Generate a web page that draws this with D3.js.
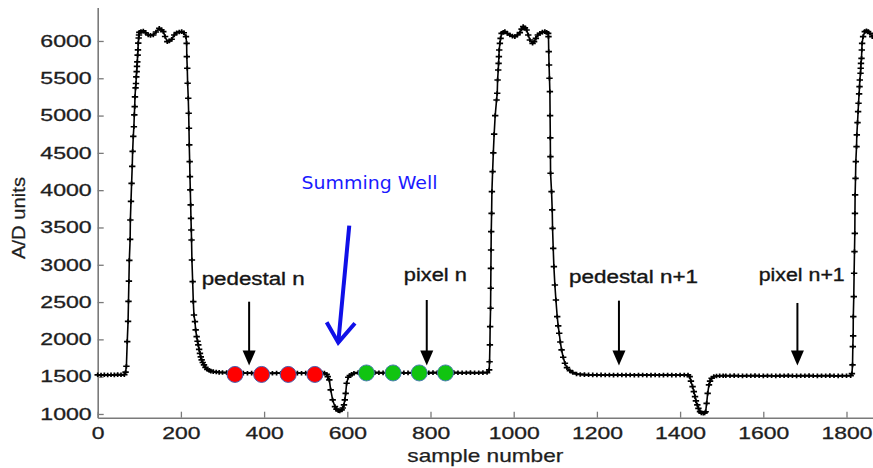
<!DOCTYPE html>
<html>
<head>
<meta charset="utf-8">
<script src="https://cdn.jsdelivr.net/npm/d3@7"></script>
<style>
  html, body { margin: 0; padding: 0; background: #ffffff; }
  svg { display: block; }
</style>
</head>
<body>
<script>
// ---------------- data ----------------
const xTicks = [0, 200, 400, 600, 800, 1000, 1200, 1400, 1600, 1800];
const yTicks = [1000, 1500, 2000, 2500, 3000, 3500, 4000, 4500, 5000, 5500, 6000];

const sampleNo = [
  0, 8, 16, 24, 32, 40, 48, 56, 64,
  67, 69, 71, 73, 74, 75, 76, 78, 78.5, 80, 81.5, 83, 84, 85.5, 87, 88, 89, 89.6, 91, 92, 92.8, 93.7, 94.4, 95.2, 96, 96.8, 97.5, 98.5, 99.3, 100,
  104, 109.6, 115, 121.6, 127, 133.6, 140, 148, 153, 157.7, 162, 167.3, 172, 177.8, 184, 189.9, 196, 201.9, 207,
  212.2, 213.8, 214.2, 215.3, 216.2, 217.7, 218.7, 219.4, 220.1, 221.1, 221.8, 222.6, 223.5, 224.2, 225, 225.6, 226.5, 228.3, 229.8, 231.4, 233.8, 235.5, 237.9, 240, 241.8, 243.8, 245.8, 247.8, 249.9, 252.5, 255.5, 259, 263.4, 268, 272, 277.8, 285, 292, 300, 310,
  320, 330, 340, 350, 360, 370, 380, 390, 400, 410, 420, 430, 440, 450, 460, 470, 480, 490, 500, 510, 520, 530, 540,
  545, 550.5, 553, 556.8, 560.1, 564.8, 570.4, 574, 578.3, 582, 586.4, 589, 592, 594, 596.1, 598.4, 602.3, 606, 610.4, 616, 626.3,
  636, 646, 656, 666, 676, 686, 696, 706, 716, 726, 736, 746, 756, 766, 776, 786, 796, 806, 816, 826, 836, 846, 856, 866, 876, 886, 896, 906, 916, 926, 936,
  941, 942, 942.8, 943.4, 944.4, 944.8, 945.2, 945.6, 946, 946.9, 947.6, 949.3, 951, 953, 955.5, 958.8, 960.4, 961.3, 962.8, 963.7, 964.4, 965.2, 966.8, 968.5, 970.9,
  975, 978.8, 985, 990.8, 997, 1002.8, 1009, 1014.8, 1019, 1022.8, 1027, 1031, 1035, 1038.9, 1045.4, 1049, 1053.3, 1058, 1062.9, 1069, 1074.9, 1079, 1082.9,
  1083.6, 1084.2, 1085, 1086, 1087, 1087.5, 1088, 1088.3, 1088.6, 1091, 1092.6, 1093.4, 1095, 1096.6, 1099, 1101.5, 1104.6, 1107, 1109.4, 1112, 1115.1, 1119, 1123.1, 1128, 1135.1, 1142, 1151,
  1160, 1170, 1180, 1190, 1200, 1210, 1220, 1230, 1240, 1250, 1260, 1270, 1280, 1290, 1300, 1310, 1320, 1330, 1340, 1350, 1360, 1370, 1380, 1390, 1400, 1410,
  1419, 1423, 1426, 1430, 1433, 1435.9, 1438, 1441.4, 1444, 1447.8, 1451, 1455.7, 1459, 1461.4, 1463.8, 1466.3, 1469.4, 1472, 1475.8, 1481, 1487.6, 1495, 1503.5,
  1510, 1520, 1530, 1540, 1550, 1560, 1570, 1580, 1590, 1600, 1610, 1620, 1630, 1640, 1650, 1660, 1670, 1680, 1690, 1700, 1710, 1720, 1730, 1740, 1750, 1760, 1770, 1780, 1790, 1800, 1810,
  1813, 1814.5, 1815.2, 1816, 1816.3, 1817.5, 1818.3, 1819.2, 1820, 1820.3, 1820.7, 1821.7, 1822.4, 1824.1, 1824.8, 1826.5, 1827.9, 1828.9, 1830.3, 1831.3, 1832, 1833.7, 1834.2, 1834.8, 1836.1, 1836.8, 1837.5, 1839.9, 1844, 1848, 1852, 1856, 1862
];

const adValue = [
  1525, 1522, 1525, 1523, 1526, 1524, 1527, 1525, 1528,
  1560, 1640, 1970, 2240, 2510, 2780, 3060, 3340, 3600, 3850, 4090, 4320, 4520, 4720, 4850, 5010, 5120, 5250, 5370, 5430, 5520, 5590, 5660, 5720, 5810, 5880, 5970, 6040, 6080, 6116,
  6125, 6134, 6110, 6080, 6075, 6080, 6120, 6170, 6150, 6125, 6060, 5990, 6000, 6023, 6080, 6111, 6120, 6125, 6110,
  6058, 5969, 5790, 5634, 5433, 5232, 5031, 4830, 4606, 4382, 4181, 4003, 3802, 3623, 3466, 3332, 3064, 2773, 2505, 2327, 2237, 2126, 2036, 1975, 1925, 1865, 1813, 1765, 1724, 1690, 1657, 1625, 1599, 1585, 1575, 1567, 1562, 1558, 1556, 1554,
  1552, 1549, 1547, 1548, 1546, 1547, 1545, 1546, 1548, 1546, 1545, 1547, 1546, 1548, 1546, 1545, 1547, 1546, 1548, 1547, 1546, 1548, 1549,
  1548, 1530, 1500, 1456, 1322, 1188, 1098, 1065, 1044, 1040, 1054, 1080, 1121, 1190, 1277, 1412, 1492, 1515, 1532, 1545, 1554,
  1555, 1553, 1552, 1554, 1553, 1551, 1553, 1552, 1554, 1553, 1552, 1551, 1553, 1552, 1554, 1553, 1552, 1554, 1553, 1551, 1553, 1552, 1554, 1553, 1552, 1553, 1554, 1552, 1553, 1554, 1555,
  1590, 1700, 1925, 2170, 2417, 2685, 2953, 3198, 3444, 3690, 3980, 4248, 4500, 4750, 5000, 5209, 5299, 5477, 5611, 5701, 5790, 5879, 5969, 6036, 6103,
  6115, 6125, 6100, 6080, 6065, 6058, 6080, 6111, 6160, 6192, 6175, 6147, 6080, 6013, 5969, 5990, 6036, 6080, 6103, 6118, 6125, 6115, 6103,
  6058, 5857, 5678, 5500, 5320, 5000, 4700, 4450, 4227, 3980, 3735, 3489, 3221, 2975, 2729, 2528, 2304, 2180, 2082, 1965, 1858, 1760, 1680, 1620, 1580, 1555, 1536,
  1530, 1527, 1525, 1524, 1523, 1524, 1522, 1523, 1521, 1522, 1523, 1521, 1522, 1520, 1521, 1522, 1520, 1521, 1522, 1520, 1521, 1522, 1521, 1520, 1522, 1523,
  1523, 1500, 1440, 1366, 1300, 1232, 1175, 1121, 1075, 1031, 1015, 1010, 1015, 1030, 1143, 1277, 1389, 1440, 1479, 1500, 1509, 1512, 1513,
  1513, 1512, 1514, 1512, 1511, 1513, 1512, 1514, 1512, 1511, 1513, 1512, 1511, 1513, 1512, 1514, 1512, 1511, 1513, 1512, 1514, 1512, 1511, 1513, 1512, 1514, 1512, 1511, 1513, 1512, 1514,
  1540, 1657, 1902, 2046, 2304, 2572, 2886, 3176, 3422, 3690, 3936, 4159, 4382, 4583, 4740, 4905, 5052, 5165, 5290, 5387, 5477, 5567, 5634, 5701, 5768, 5879, 5969, 6058, 6125, 6138, 6125, 6103, 6058
];

// highlighted samples
const pedestalSamples = [330, 394, 458, 522];
const pedestalValues  = [1530, 1530, 1530, 1530];
const pixelSamples    = [646, 710, 773, 836];
const pixelValues     = [1550, 1550, 1550, 1550];

// annotations
const annoLabels      = ["pedestal n", "pixel n", "pedestal n+1", "pixel n+1"];
const annoTextSample  = [250, 736, 1133, 1589];
const annoTextValue   = [2729, 2783, 2756, 2783];
const annoArrowSample = [364, 791, 1253, 1682];
const annoArrowTop    = [2505, 2528, 2519, 2488];
const annoArrowTip    = [1650, 1650, 1650, 1650];

const wellLabel = "Summing Well";
const wellLabelPos = [490, 4011];
const wellShaft = [[604.7, 3524], [578.3, 1956]];
const wellHead  = [[550.4, 2229], [578.3, 1956], [618.4, 2216]];

// ---------------- chart ----------------
const W = 873, H = 468;
const FONT = "'Liberation Sans', Arial, Helvetica, sans-serif";

const svg = d3.select("body").append("svg").attr("width", W).attr("height", H);

const x = d3.scaleLinear().domain([0, 1863.7]).range([97.7, 873]);
const y = d3.scaleLinear().domain([950, 6450]).range([417.7, 7.4]);

function stretch(sel, factor) {
  sel.each(function () {
    const w = this.getComputedTextLength();
    d3.select(this).attr("textLength", w * factor).attr("lengthAdjust", "spacingAndGlyphs");
  });
}

// axes
const gx = svg.append("g")
  .attr("transform", `translate(0,${y(950)})`)
  .call(d3.axisBottom(x).tickValues(xTicks).tickSize(-6).tickSizeOuter(0).tickPadding(10).tickFormat(d3.format("d")));
const gy = svg.append("g")
  .attr("transform", `translate(${x(0)},0)`)
  .call(d3.axisLeft(y).tickValues(yTicks).tickSize(-6).tickSizeOuter(0).tickPadding(6).tickFormat(d3.format("d")));

[gx, gy].forEach(g => {
  g.select(".domain").attr("stroke", "#7a7a7a").attr("stroke-width", 1.6);
  g.selectAll(".tick line").attr("stroke", "#7a7a7a").attr("stroke-width", 1.3);
  g.selectAll(".tick text")
    .attr("fill", "#1e1e1e")
    .attr("stroke", "#1e1e1e").attr("stroke-width", 0.3)
    .style("font-family", FONT)
    .style("font-size", "16.5px");
});
stretch(gx.selectAll(".tick text"), 1.39);
stretch(gy.selectAll(".tick text"), 1.40);

// axis titles
svg.append("text")
  .attr("x", (x.range()[0] + x.range()[1]) / 2)
  .attr("y", 461.5)
  .attr("text-anchor", "middle")
  .attr("fill", "#1e1e1e")
  .attr("stroke", "#1e1e1e").attr("stroke-width", 0.25)
  .style("font-family", FONT).style("font-size", "18.5px")
  .attr("textLength", 156).attr("lengthAdjust", "spacingAndGlyphs")
  .text("sample number");

svg.append("text")
  .attr("transform", "translate(25,218) rotate(-90)")
  .attr("text-anchor", "middle")
  .attr("fill", "#1e1e1e")
  .attr("stroke", "#1e1e1e").attr("stroke-width", 0.25)
  .style("font-family", FONT).style("font-size", "19px")
  .attr("textLength", 82).attr("lengthAdjust", "spacingAndGlyphs")
  .text("A/D units");

// waveform
const pts = sampleNo.map((s, i) => [s, adValue[i]]);
svg.append("path")
  .datum(pts)
  .attr("fill", "none")
  .attr("stroke", "#000")
  .attr("stroke-width", 1.6)
  .attr("stroke-linejoin", "round")
  .attr("d", d3.line().x(d => x(d[0])).y(d => y(d[1])));

svg.append("g").selectAll("path")
  .data(pts)
  .join("path")
  .attr("transform", d => `translate(${x(d[0])},${y(d[1])})`)
  .attr("d", "M-3.2,0H3.2M0,-2.3V2.3")
  .attr("stroke", "#000")
  .attr("stroke-width", 1.7);

// highlighted samples
const circ = svg.append("g");
circ.selectAll("circle.red")
  .data(pedestalSamples.map((s, i) => [s, pedestalValues[i]]))
  .join("circle")
  .attr("cx", d => x(d[0])).attr("cy", d => y(d[1])).attr("r", 8)
  .attr("fill", "#ff0000").attr("stroke", "#4a5fb0").attr("stroke-width", 1);
circ.selectAll("circle.green")
  .data(pixelSamples.map((s, i) => [s, pixelValues[i]]))
  .join("circle")
  .attr("cx", d => x(d[0])).attr("cy", d => y(d[1])).attr("r", 8)
  .attr("fill", "#11c411").attr("stroke", "#4a7fb0").attr("stroke-width", 1);

// annotations
const textWidths = [103, 63, 129, 86];
annoLabels.forEach((lab, i) => {
  svg.append("text")
    .attr("x", x(annoTextSample[i]))
    .attr("y", y(annoTextValue[i]))
    .attr("fill", "#151515")
    .style("font-family", FONT).style("font-size", "18px")
    .attr("stroke", "#151515").attr("stroke-width", 0.35)
    .attr("textLength", textWidths[i]).attr("lengthAdjust", "spacingAndGlyphs")
    .text(lab);
  const ax = x(annoArrowSample[i]);
  const top = y(annoArrowTop[i]);
  const tip = y(annoArrowTip[i]);
  svg.append("line")
    .attr("x1", ax).attr("x2", ax).attr("y1", top).attr("y2", tip - 10)
    .attr("stroke", "#000").attr("stroke-width", 2);
  svg.append("path")
    .attr("d", `M${ax},${tip}L${ax - 6.5},${tip - 15}L${ax + 6.5},${tip - 15}Z`)
    .attr("fill", "#000");
});

// summing well
svg.append("text")
  .attr("x", x(wellLabelPos[0]))
  .attr("y", y(wellLabelPos[1]))
  .attr("fill", "#1a1aff")
  .style("font-family", "'DejaVu Sans', sans-serif").style("font-size", "18.5px")
  .attr("textLength", 136).attr("lengthAdjust", "spacingAndGlyphs")
  .text(wellLabel);
svg.append("path")
  .datum(wellShaft)
  .attr("fill", "none").attr("stroke", "#1010e8").attr("stroke-width", 4)
  .attr("d", d3.line().x(d => x(d[0])).y(d => y(d[1])));
svg.append("path")
  .datum(wellHead)
  .attr("fill", "none").attr("stroke", "#1010e8").attr("stroke-width", 4)
  .attr("stroke-linejoin", "miter")
  .attr("d", d3.line().x(d => x(d[0])).y(d => y(d[1])));
</script>
</body>
</html>
